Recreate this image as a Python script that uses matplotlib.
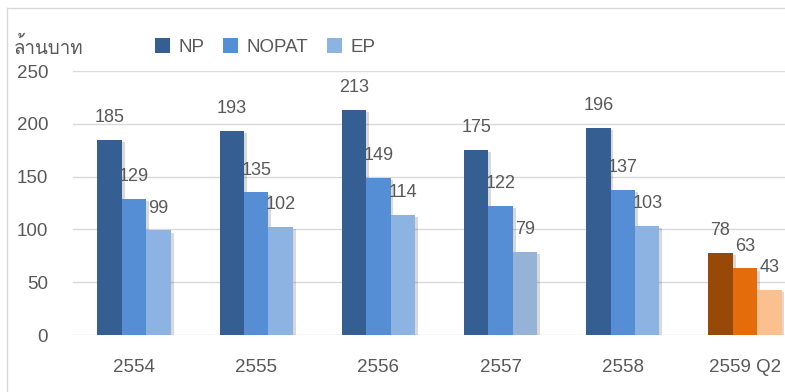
import numpy as np
import matplotlib
matplotlib.use("Agg")
import matplotlib.pyplot as plt
from matplotlib import font_manager
from matplotlib.ft2font import FT2Font
from matplotlib.patches import Patch
import matplotlib.patheffects as pe

# Data
categories = ["2554", "2555", "2556", "2557", "2558", "2559 Q2"]
np_values = [185, 193, 213, 175, 196, 78]
nopat_values = [129, 135, 149, 122, 137, 63]
ep_values = [99, 102, 114, 79, 103, 43]
series_names = ["NP", "NOPAT", "EP"]
unit_label = "ล้านบาท"
y_ticks = [0, 50, 100, 150, 200, 250]

# Colours (last period in orange tones)
np_colors = ["#355F93"] * 5 + ["#984807"]
nopat_colors = ["#558ED5"] * 5 + ["#E46C0A"]
ep_colors = ["#8DB3E2", "#8DB3E2", "#8DB3E2", "#95B3D7", "#8DB3E2", "#FAC090"]
legend_colors = ["#355F93", "#558ED5", "#8DB3E2"]
text_color = "#595959"
grid_color = "#D9D9D9"


def thai_family():
    for f in font_manager.fontManager.ttflist:
        try:
            cmap = FT2Font(f.fname).get_charmap()
        except Exception:
            continue
        if 0x0E25 in cmap and 0x0E17 in cmap:
            return f.name
    return "DejaVu Sans"


plt.rcParams["font.family"] = ["Liberation Sans", "DejaVu Sans"]

fig = plt.figure(figsize=(7.85, 3.92), dpi=100)
ax = fig.add_axes([73 / 785, 57 / 392, 1 - 73 / 785, 264 / 392])

x = np.arange(len(categories))
w = 0.2
shadow = [pe.SimplePatchShadow(offset=(2, -1.5), shadow_rgbFace="#000000", alpha=0.15), pe.Normal()]

for offs, vals, cols in [(-w, np_values, np_colors), (0, nopat_values, nopat_colors), (w, ep_values, ep_colors)]:
    bars = ax.bar(x + offs, vals, width=w, color=cols, zorder=3, linewidth=0)
    for b, v in zip(bars, vals):
        b.set_path_effects(shadow)
        ax.annotate(str(v), (b.get_x() + b.get_width() / 2, v), xytext=(0, 10),
                    textcoords="offset points", ha="center", va="bottom",
                    fontsize=13, color=text_color, zorder=4)

ax.set_ylim(0, 250)
ax.set_xlim(-0.5, 5 + 40 / 122)
ax.set_yticks(y_ticks)
ax.set_xticks(x)
ax.set_xticklabels(categories)
ax.tick_params(axis="both", length=0, labelsize=13.5, labelcolor=text_color)
ax.tick_params(axis="y", pad=18)
ax.tick_params(axis="x", pad=17)
ax.grid(axis="y", color=grid_color, linewidth=1, zorder=0)
for s in ax.spines.values():
    s.set_visible(False)

# Unit label
fig.text(14 / 785, 1 - 47 / 392, unit_label, family=[thai_family(), "DejaVu Sans"],
         fontsize=13.5, color=text_color, va="center", ha="left")

# Legend
handles = [Patch(facecolor=c, edgecolor="none") for c in legend_colors]
fig.legend(handles, series_names, loc="center left", bbox_to_anchor=(155 / 785, 1 - 47 / 392),
           ncol=3, frameon=False, fontsize=13.5, labelcolor=text_color,
           handlelength=0.8, handleheight=0.8, handletextpad=0.45, columnspacing=1.0,
           borderpad=0, borderaxespad=0)

# Outer chart frame (left and top edges)
fig.add_artist(plt.Line2D([6.5 / 785, 6.5 / 785], [0, 1 - 8 / 392], color=grid_color, lw=1, transform=fig.transFigure))
fig.add_artist(plt.Line2D([6.5 / 785, 1], [1 - 8 / 392, 1 - 8 / 392], color=grid_color, lw=1, transform=fig.transFigure))

fig.savefig("out.png", dpi=100)
